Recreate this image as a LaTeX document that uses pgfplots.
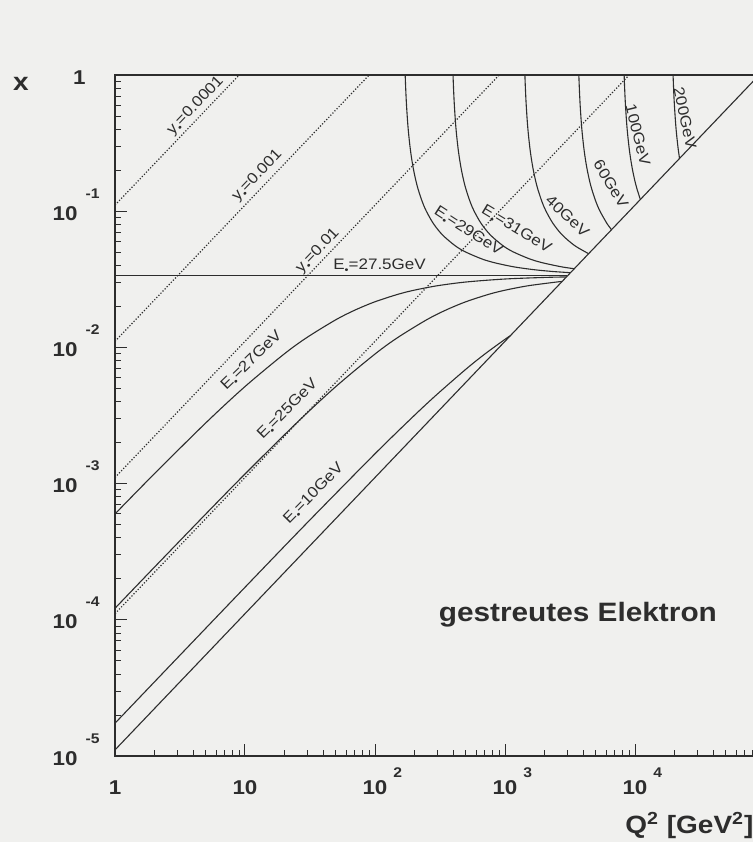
\documentclass[border=0pt]{standalone}
\usepackage{fontspec}
\setmainfont{Liberation Sans}
\newfontfamily\wide{Liberation Sans}[FakeStretch=1.12]
\usepackage{pgfplots}
\pgfplotsset{compat=1.18}

\definecolor{paper}{RGB}{240,240,238}
\definecolor{ink}{RGB}{45,45,45}

% fonts for tick labels, exponents and curve labels
\newcommand{\tfont}{\wide\bfseries\fontsize{10}{12}\selectfont}
\newcommand{\efont}{\wide\bfseries\fontsize{7}{8}\selectfont}
\newcommand{\cfont}{\wide\fontsize{7.6}{8}\selectfont}
\newcommand{\ylab}[1]{{\tfont 10}\hspace{4pt}\raisebox{11pt}{\efont #1}}
\newcommand{\xlab}[1]{{\tfont 10}\rlap{\hspace{3pt}\raisebox{8.5pt}{\efont #1}}}
\newcommand{\sdot}{\raisebox{-0.45ex}{\fontsize{5}{5}\selectfont\textbullet}}
\newcommand{\Ee}{E\sdot}
\newcommand{\ye}{y\sdot}

\tikzset{
  ydot/.style={dash pattern=on 0.6pt off 0.9pt, line width=0.6pt},
  lab/.style={inner sep=0pt, text=ink, font=\cfont},
}

\begin{document}
\begin{tikzpicture}
\path[use as bounding box, fill=paper] (-57.5pt,-43pt) rectangle (319pt,378pt);
\begin{axis}[
  at={(0pt,0pt)}, anchor=south west,
  scale only axis, width=325pt, height=340.5pt,
  xmode=log, ymode=log,
  xmin=1, xmax=100000, ymin=1e-5, ymax=1,
  axis line style={ink, line width=0.6pt},
  tick style={ink, line width=0.5pt},
  tick align=inside, tick pos=left,
  major tick length=6pt, minor tick length=2.8pt,
  xtick={1,10,100,1000,10000},
  xticklabels={{\tfont 1},{\tfont 10},\xlab{2},\xlab{3},\xlab{4}},
  minor xtick={2,3,4,5,6,7,8,9,20,30,40,50,60,70,80,90,200,300,400,500,600,700,800,900,2000,3000,4000,5000,6000,7000,8000,9000,20000,30000,40000,50000,60000,70000,80000,90000},
  ytick={1e-5,1e-4,1e-3,1e-2,1e-1,1},
  yticklabels={\ylab{-5},\ylab{-4},\ylab{-3},\ylab{-2},\ylab{-1},{{\tfont 1}\hbox to 7pt{}}},
  minor ytick={2e-5,3e-5,4e-5,5e-5,6e-5,7e-5,8e-5,9e-5,2e-4,3e-4,4e-4,5e-4,6e-4,7e-4,8e-4,9e-4,2e-3,3e-3,4e-3,5e-3,6e-3,7e-3,8e-3,9e-3,0.02,0.03,0.04,0.05,0.06,0.07,0.08,0.09,0.2,0.3,0.4,0.5,0.6,0.7,0.8,0.9},
  xticklabel style={anchor=base, inner sep=0pt, yshift=-19pt, text=ink},
  yticklabel style={anchor=base east, inner sep=0pt, xshift=-7.5pt, yshift=-4.5pt, text=ink},
  every axis plot/.append style={ink, line width=0.55pt},
]
% lines of constant inelasticity y
\addplot[ydot] coordinates {(1,0.11086) (9.02,1)};
\addplot[ydot] coordinates {(1,0.011086) (90.2,1)};
\addplot[ydot] coordinates {(1,1.1086e-3) (902,1)};
\addplot[ydot] coordinates {(1,1.1086e-4) (9020,1)};
% kinematic limit y = 1
\addplot[solid] coordinates {(1,1.1086e-5) (90200,1)};

% scattered electron energy below the beam energy
\addplot[solid] coordinates {(1,0.033537) (3025,0.033537)};
\addplot[smooth] coordinates {(1,5.989e-4) (2,1.1767e-3) (5,2.7947e-3) (10,5.1594e-3) (20,8.943e-3) (30,0.011837) (50,0.015970) (70,0.018781) (100,0.021636) (150,0.024539) (200,0.026303) (300,0.028341) (500,0.030213) (1000,0.031788) (2000,0.032639) (2970,0.032927)};
\addplot[smooth] coordinates {(1,1.2151e-4) (2,2.4214e-4) (5,5.9887e-4) (10,1.1767e-3) (25,2.7947e-3) (50,5.1594e-3) (100,8.943e-3) (150,0.011837) (250,0.015970) (350,0.018781) (500,0.021636) (750,0.024539) (1000,0.026303) (1500,0.028341) (2500,0.030213) (2750,0.030488)};
\addplot[smooth] coordinates {(1,1.7412e-5) (3,5.2183e-5) (10,1.7332e-4) (30,5.1462e-4) (100,1.6562e-3) (200,3.1564e-3) (300,4.5218e-3) (500,6.9148e-3) (700,8.9432e-3) (1000,0.011466) (1100,0.012195)};

% scattered electron energy above the beam energy
\addplot[smooth] coordinates {(170.73,1) (171.6,0.87196) (173.25,0.70428) (174.9,0.59249) (178.2,0.45275) (181.5,0.36891) (186.45,0.29151) (191.4,0.24314) (198,0.20122) (206.25,0.16769) (214.5,0.14533) (231,0.11738) (247.5,0.10061) (280.5,0.081447) (330,0.067074) (412.5,0.055895) (495,0.050306) (660,0.044716) (825,0.041921) (1155,0.039127) (1650,0.037263) (2310,0.036117) (3190,0.035366)};
\addplot[smooth] coordinates {(398.36,1) (400.4,0.87196) (404.25,0.70428) (408.1,0.59249) (415.8,0.45275) (423.5,0.36891) (435.05,0.29151) (446.6,0.24314) (462,0.20122) (481.25,0.16769) (500.5,0.14533) (539,0.11738) (577.5,0.10061) (654.5,0.081447) (770,0.067074) (962.5,0.055895) (1155,0.050306) (1540,0.044716) (1925,0.041921) (2695,0.039127) (3410,0.037805)};
\addplot[smooth] coordinates {(1422.7,1) (1430,0.87196) (1443.75,0.70428) (1457.5,0.59249) (1485,0.45275) (1512.5,0.36891) (1553.75,0.29151) (1595,0.24314) (1650,0.20122) (1718.75,0.16769) (1787.5,0.14533) (1925,0.11738) (2062.5,0.10061) (2337.5,0.081447) (2750,0.067074) (3437.5,0.055895) (4400,0.048780)};
\addplot[smooth] coordinates {(3699.1,1) (3718,0.87196) (3753.75,0.70428) (3789.5,0.59249) (3861,0.45275) (3932.5,0.36891) (4039.75,0.29151) (4147,0.24314) (4290,0.20122) (4468.75,0.16769) (4647.5,0.14533) (5005,0.11738) (5362.5,0.10061) (6077.5,0.081447) (6600,0.073171)};
\addplot[smooth] coordinates {(8251.7,1) (8294,0.87196) (8373.75,0.70428) (8453.5,0.59249) (8613,0.45275) (8772.5,0.36891) (9011.75,0.29151) (9251,0.24314) (9570,0.20122) (9968.75,0.16769) (10367.5,0.14533) (11000,0.121951)};
\addplot[smooth] coordinates {(19633.4,1) (19734,0.87196) (19923.75,0.70428) (20113.5,0.59249) (20493,0.45275) (20872.5,0.36891) (21441.75,0.29151) (22000,0.243902)};

% curve labels
\node[lab, rotate=46.35] at (axis cs:4.18,0.594) {\ye=0.0001};
\node[lab, rotate=46.35] at (axis cs:12.48,0.1822) {\ye=0.001};
\node[lab, rotate=46.35] at (axis cs:36.4,0.05112) {\ye=0.01};
\node[lab, anchor=base west] at (axis cs:47.5,0.0371) {\Ee=27.5GeV};
\node[lab, rotate=44] at (axis cs:11.32,7.97e-3) {\Ee=27GeV};
\node[lab, rotate=45] at (axis cs:21.4,3.48e-3) {\Ee=25GeV};
\node[lab, rotate=45.5] at (axis cs:34,8.43e-4) {\Ee=10GeV};
\node[lab, rotate=-33] at (axis cs:519,0.0705) {\Ee=29GeV};
\node[lab, rotate=-31] at (axis cs:1216,0.0729) {\Ee=31GeV};
\node[lab, rotate=-43] at (axis cs:3026,0.0923) {40GeV};
\node[lab, rotate=-59] at (axis cs:6535,0.1586) {60GeV};
\node[lab, rotate=-76] at (axis cs:10550,0.363) {100GeV};
\node[lab, rotate=-78] at (axis cs:24250,0.4836) {200GeV};
\end{axis}

% axis titles and panel caption
\node[text=ink, inner sep=0pt] at (-47pt,336.25pt) {\wide\bfseries\fontsize{12.5}{14}\selectfont x};
\node[text=ink, inner sep=0pt, anchor=base west] at (161.7pt,67.15pt) {\wide\bfseries\fontsize{13.3}{15}\selectfont gestreutes Elektron};
\node[text=ink, inner sep=0pt, anchor=base west] at (255pt,-38.5pt) {\wide\bfseries\fontsize{12.5}{14}\selectfont Q\textsuperscript{2} [GeV\textsuperscript{2}]};
\end{tikzpicture}
\end{document}
